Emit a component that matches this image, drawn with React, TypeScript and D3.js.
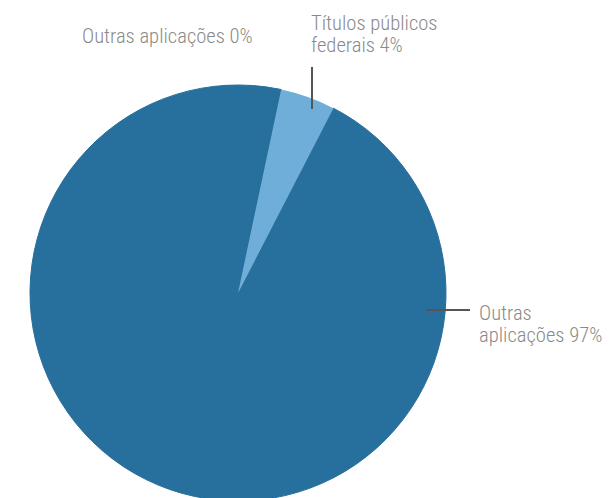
import React from "react";
import * as d3 from "d3";

const categories = ["Títulos públicos federais", "Outras aplicações", "Outras aplicações"];
const values = [4.25, 95.5, 0.25];
const pctLabels = ["4%", "97%", "0%"];
const colors = ["#6eaed8", "#276f9c", "#276f9c"];

const W = 610;
const H = 498;
const cx = 238;
const cy = 293;
const R = 208;
const startDeg = 12;

const labelLayout = [
  { lines: ["Títulos públicos", "federais 4%"], x: 311, y: 30, leader: [[312, 67], [312, 109]] },
  { lines: ["Outras", "aplicações 97%"], x: 479, y: 320, leader: [[426, 310], [470, 310]] },
  { lines: ["Outras aplicações 0%"], x: 82, y: 43, leader: null as null | number[][] },
];

export default function App() {
  const data = categories.map((c, i) => ({ c, v: values[i], p: pctLabels[i], color: colors[i] }));
  const start = (startDeg * Math.PI) / 180;
  const pie = d3
    .pie<any>()
    .sort(null)
    .value((d: any) => d.v)
    .startAngle(start)
    .endAngle(start + 2 * Math.PI);
  const arcs = pie(data);
  const arc = d3.arc<any>().innerRadius(0).outerRadius(R);
  const font = "'Roboto Condensed', 'Liberation Sans Narrow', 'Open Sans', sans-serif";
  const order = [2, 1, 0];
  return (
    <svg width={W} height={H} style={{ position: "absolute", left: 0, top: 0 }}>
      <g transform={`translate(${cx},${cy})`}>
        {order.map((i) => {
          const a = arcs[i];
          const dark = i !== 0;
          return (
            <path
              key={i}
              d={arc(a) as string}
              fill={a.data.color}
              stroke={dark ? a.data.color : "none"}
              strokeWidth={dark ? 1 : 0}
            />
          );
        })}
      </g>
      {labelLayout.map((l, i) => (
        <g key={i}>
          {l.leader && (
            <line
              x1={l.leader[0][0]}
              y1={l.leader[0][1]}
              x2={l.leader[1][0]}
              y2={l.leader[1][1]}
              stroke="#555"
              strokeWidth={2}
            />
          )}
          <text x={l.x} y={l.y} fill="#8a8a8a" fontFamily={font} fontSize={20.6} fontWeight={300}>
            {l.lines.map((s, j) => (
              <tspan key={j} x={l.x} dy={j === 0 ? 0 : 22}>
                {s}
              </tspan>
            ))}
          </text>
        </g>
      ))}
    </svg>
  );
}
